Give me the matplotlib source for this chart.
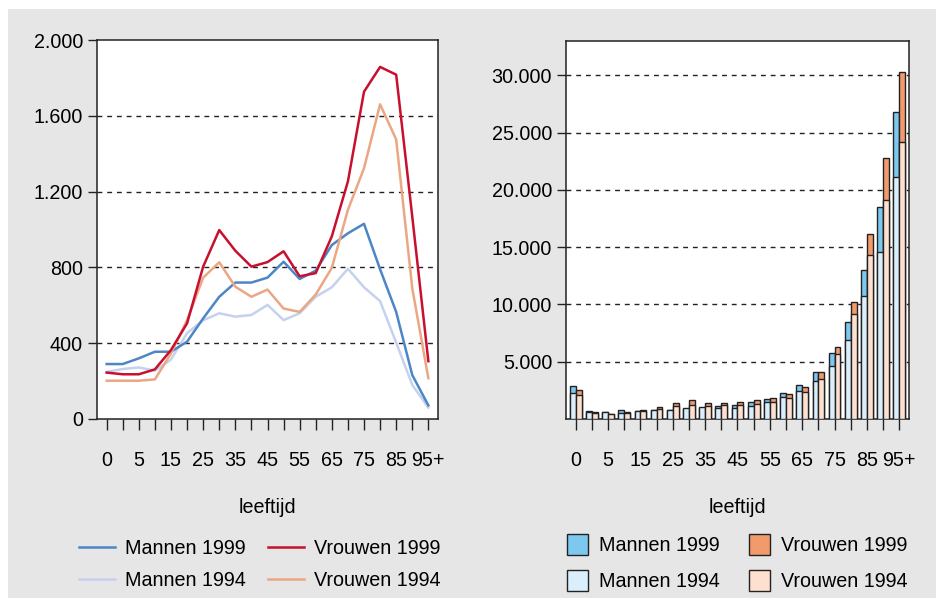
import matplotlib.pyplot as plt
import matplotlib.patches as mpatches
import numpy as np

plt.rcParams['font.family'] = ['Liberation Sans', 'DejaVu Sans']
plt.rcParams['font.size'] = 14.2

# leeftijdsklassen
leeftijd = ['0', '1-4', '5-9', '10-14', '15-19', '20-24', '25-29', '30-34',
            '35-39', '40-44', '45-49', '50-54', '55-59', '60-64', '65-69',
            '70-74', '75-79', '80-84', '85-89', '90-94', '95+']
xlabels = ['0', '', '5', '', '15', '', '25', '', '35', '', '45', '', '55', '',
           '65', '', '75', '', '85', '', '95+']

# links: lijnen
m99 = [290, 290, 320, 355, 355, 408, 531, 645, 720, 720, 746, 830, 739, 783,
       918, 980, 1030, 790, 565, 232, 72]
m94 = [248, 264, 272, 255, 314, 453, 521, 558, 540, 549, 602, 522, 558, 645,
       695, 793, 695, 622, 403, 180, 60]
v99 = [245, 236, 236, 262, 364, 505, 804, 997, 888, 804, 828, 885, 753, 770,
       964, 1254, 1727, 1858, 1817, 1068, 305]
v94 = [202, 202, 202, 209, 346, 522, 746, 827, 698, 645, 683, 583, 565, 657,
       798, 1104, 1323, 1661, 1475, 690, 215]

# rechts: staven
bm99 = [2860, 700, 580, 750, 700, 760, 780, 850, 1000, 1170, 1265, 1500, 1730,
        2250, 3010, 4130, 5750, 8470, 12980, 18500, 26790]
bm94 = [2230, 600, 610, 510, 720, 780, 820, 930, 1030, 930, 1000, 1160, 1445,
        1880, 2460, 3320, 4620, 6940, 10750, 14590, 21150]
bv99 = [2500, 580, 460, 580, 810, 1050, 1380, 1620, 1380, 1380, 1455, 1620,
        1820, 2140, 2830, 4130, 6300, 10200, 16130, 22770, 30290]
bv94 = [2110, 520, 420, 560, 720, 900, 1170, 1260, 1170, 1200, 1235, 1330,
        1445, 1790, 2370, 3470, 5640, 9190, 14360, 19160, 24190]

yticks_l = [0, 400, 800, 1200, 1600, 2000]
yticks_r = [5000, 10000, 15000, 20000, 25000, 30000]

kleur_lijn = {'m99': '#4d86c6', 'v99': '#c8102e', 'm94': '#c5d2ee', 'v94': '#eba784'}
kleur_staaf = {'m99': '#7dc8ee', 'v99': '#f29a6c', 'm94': '#dbeefb', 'v94': '#fde0d0'}


def nl(v):
    return f'{v:,}'.replace(',', '.')


fig = plt.figure(figsize=(9.36, 6.02), dpi=100, facecolor='white')
fig.patches.append(mpatches.Rectangle((8 / 936, 4 / 602), 1, 1 - 13 / 602,
                                      transform=fig.transFigure,
                                      facecolor='#e6e6e6', edgecolor='none', zorder=-10))

ax1 = fig.add_axes([97 / 936, 1 - 419 / 602, 341 / 936, 379 / 602])
ax2 = fig.add_axes([566 / 936, 1 - 419 / 602, 343 / 936, 378 / 602])

x = np.arange(len(leeftijd))


def opmaak(ax, yticks, ymax):
    ax.set_facecolor('white')
    ax.set_xlim(-0.6, 20.6)
    ax.set_ylim(0, ymax)
    ax.set_xticks(x)
    ax.set_xticklabels(xlabels)
    ax.set_yticks(yticks)
    ax.set_yticklabels([nl(v) for v in yticks])
    ax.tick_params(axis='x', direction='out', length=8, width=1, pad=15, colors='#222',
                   labelcolor='black')
    ax.tick_params(axis='y', direction='out', length=6.5, width=1, pad=3.5, colors='#222',
                   labelcolor='black')
    for s in ax.spines.values():
        s.set_color('#222')
        s.set_linewidth(1.1)
    for v in yticks:
        if 0 < v < ymax * 0.999:
            ax.axhline(v, color='#222', lw=1, dashes=(3.5, 3.5), zorder=1)
    ax.set_xlabel('leeftijd', labelpad=20)


# linker grafiek
opmaak(ax1, yticks_l, 2000)
l1, = ax1.plot(x, m99, color=kleur_lijn['m99'], lw=1.8, zorder=3)
l2, = ax1.plot(x, m94, color=kleur_lijn['m94'], lw=1.8, zorder=2)
l3, = ax1.plot(x, v99, color=kleur_lijn['v99'], lw=1.8, zorder=4)
l4, = ax1.plot(x, v94, color=kleur_lijn['v94'], lw=1.8, zorder=3)

fig.legend([l1, l2, l3, l4], ['Mannen 1999', 'Mannen 1994', 'Vrouwen 1999', 'Vrouwen 1994'],
           ncol=2, loc='upper left', bbox_to_anchor=(79 / 936, 1 - 539 / 602),
           frameon=False, borderpad=0, borderaxespad=0, handlelength=1.85,
           handletextpad=0.5, columnspacing=1.1, labelspacing=0.65)

# rechter grafiek
opmaak(ax2, yticks_r, 33000)
w = 0.36
ec = '#222'
ax2.bar(x - w / 2, bm99, w, color=kleur_staaf['m99'], edgecolor=ec, lw=1, zorder=2)
ax2.bar(x - w / 2, bm94, w, color=kleur_staaf['m94'], edgecolor=ec, lw=1, zorder=3)
ax2.bar(x + w / 2, bv99, w, color=kleur_staaf['v99'], edgecolor=ec, lw=1, zorder=2)
ax2.bar(x + w / 2, bv94, w, color=kleur_staaf['v94'], edgecolor=ec, lw=1, zorder=3)

ph = [mpatches.Patch(facecolor=kleur_staaf[k], edgecolor=ec, lw=1)
      for k in ['m99', 'm94', 'v99', 'v94']]
fig.legend(ph, ['Mannen 1999', 'Mannen 1994', 'Vrouwen 1999', 'Vrouwen 1994'],
           ncol=2, loc='upper left', bbox_to_anchor=(567 / 936, 1 - 534 / 602),
           frameon=False, borderpad=0, borderaxespad=0, handlelength=1.05,
           handleheight=1.25, handletextpad=0.55, columnspacing=1.5, labelspacing=0.75)

fig.savefig('out.png', dpi=100, facecolor=fig.get_facecolor())
